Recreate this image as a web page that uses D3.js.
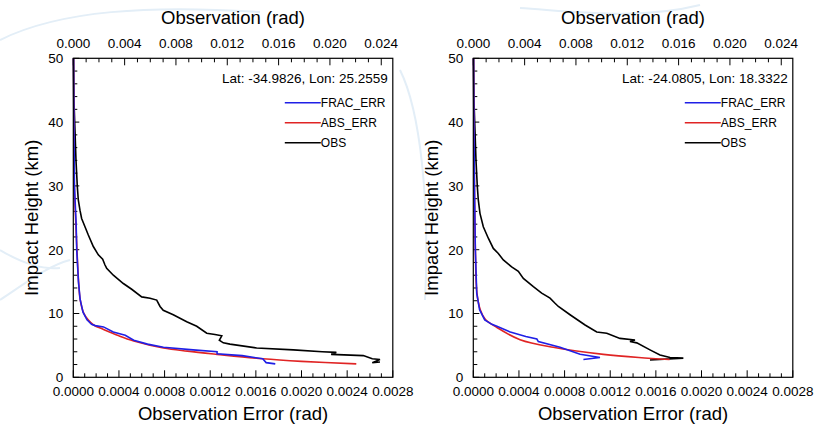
<!DOCTYPE html>
<html>
<head>
<meta charset="utf-8">
<script src="https://cdn.jsdelivr.net/npm/d3@7"></script>
<style>
  body { margin: 0; background: #fff; }
  text { font-family: "Liberation Sans", Arial, sans-serif; fill: #000; }
</style>
</head>
<body>
<div id="chart"></div>
<script>
var width = 814;
var height = 425;

// panel info
var panelTitles = ["Lat: -34.9826, Lon: 25.2559", "Lat: -24.0805, Lon: 18.3322"];
var legendNames = ["FRAC_ERR", "ABS_ERR", "OBS"];
var legendColors = ["#1f1fe6", "#e02424", "#000000"];

// tick values
var errTicks = [0, 0.0004, 0.0008, 0.0012, 0.0016, 0.0020, 0.0024, 0.0028];
var obsTicks = [0, 0.004, 0.008, 0.012, 0.016, 0.020, 0.024];
var hTicks = [0, 10, 20, 30, 40, 50];

// [value (rad), impact height (km)] -- left panel
var leftObs = [[0.00002,50],[0.00005,43.5],[0.00013,38.8],[0.00021,34],[0.00031,30],[0.00039,27.8],
  [0.00052,26.2],[0.00065,24.9],[0.00091,23.6],[0.00117,22.3],[0.00156,20.5],[0.00195,19.2],[0.00229,18.5],
  [0.00247,17.6],[0.0026,17.1],[0.00312,16.0],[0.0039,14.7],[0.00455,13.8],[0.00533,12.6],[0.00598,12.4],
  [0.0065,12.1],[0.00676,11.1],[0.00701,10.5],[0.00779,9.8],[0.00884,8.7],[0.00962,8.0],[0.0104,6.9],
  [0.01104,6.7],[0.01157,6.5],[0.01138,5.8],[0.01169,5.4],[0.01221,5.2],[0.01429,4.6],[0.01715,4.3],
  [0.0194,4.0],[0.0205,3.9],[0.0201,3.6],[0.0226,3.4],[0.0233,2.9],[0.0239,2.8],[0.0233,2.3],[0.0239,2.4]];
var leftAbs = [[0.000002,50],[0.000005,40],[0.000009,30],[0.00002,25],[0.000032,20],[0.000047,14.8],
  [0.00006,12.2],[0.00009,10.1],[0.00013,9.0],[0.000178,8.2],[0.000265,7.5],[0.0004,6.5],[0.00053,5.7],
  [0.00079,4.6],[0.001,4.1],[0.00126,3.6],[0.00166,2.9],[0.002,2.5],[0.00248,2.1]];
var leftFrac = [[0.000002,50],[0.000005,40],[0.00001,30],[0.000025,24],[0.00003,20],[0.000045,15],
  [0.00006,12.2],[0.000085,10.2],[0.00012,9.0],[0.00016,8.3],[0.000192,8.1],[0.000265,7.9],[0.00035,7.1],
  [0.000455,6.6],[0.00053,5.8],[0.00065,5.2],[0.00079,4.7],[0.00105,4.3],[0.00126,4.0],[0.00126,3.7],
  [0.00148,3.4],[0.00166,2.9],[0.00169,2.3],[0.00177,2.1]];

// right panel
var rightObs = [[0.00002,50],[0.00005,43.5],[0.00013,38.8],[0.00021,34],[0.00031,30],[0.00039,27.8],
  [0.00052,25.7],[0.00078,23.6],[0.00117,21.8],[0.00156,20.2],[0.00195,19.4],[0.00234,18.4],[0.00299,17.3],
  [0.00351,16.6],[0.0039,15.5],[0.00468,14.2],[0.00533,13.2],[0.00598,12.4],[0.00637,11.6],[0.00663,11.1],
  [0.00754,9.8],[0.00871,8.2],[0.00962,7.1],[0.0104,6.9],[0.01143,6.1],[0.0126,5.85],[0.01221,5.6],
  [0.01274,5.4],[0.01377,4.3],[0.01455,3.5],[0.01533,3.1],[0.01637,3.0],[0.01377,2.7]];
var rightAbs = [[0.000002,50],[0.000005,40],[0.00001,30],[0.000018,20],[0.000032,13.2],[0.000061,10.6],
  [0.000105,9.1],[0.000207,7.8],[0.00041,5.9],[0.0007,4.7],[0.00114,3.6],[0.00145,3.1],[0.00172,2.8]];
var rightFrac = [[0.000002,50],[0.000005,40],[0.00001,30],[0.000018,20],[0.00003,13.2],[0.000055,10.6],
  [0.0001,9.0],[0.000163,8.3],[0.000207,8.0],[0.000324,7.1],[0.00046,6.4],[0.000557,6.0],[0.00057,5.6],
  [0.00076,4.7],[0.000936,3.6],[0.00111,3.1],[0.000965,2.8]];

var svg = d3.select("#chart")
  .append("svg")
  .attr("width", width)
  .attr("height", height);

// faint background swooshes
var bg = svg.append("g").attr("fill", "none").attr("stroke", "#e3eef7").attr("stroke-width", 2);
bg.append("path").attr("d", "M0,40 C60,10 150,5 260,12");
bg.append("path").attr("d", "M0,300 C30,280 50,265 70,260");
bg.append("path").attr("d", "M0,250 C20,262 40,270 60,268");
bg.append("path").attr("d", "M400,70 C420,110 430,200 425,300");
bg.append("path").attr("d", "M520,8 C580,12 640,20 700,5");

function drawPanel(x0, title, obs, abs, frac) {
  var y0 = 58.3, w = 319.5, h = 319;
  var g = svg.append("g").attr("transform", "translate(" + x0 + "," + y0 + ")");

  var xErr = d3.scaleLinear().domain([0, 0.0028]).range([0, w]);
  var xObs = d3.scaleLinear().domain([0, 0.0249]).range([0, w]);
  var y = d3.scaleLinear().domain([0, 50]).range([h, 0]);

  // inward ticks (NCL style)
  var tk = g.append("g").attr("stroke", "#000").attr("stroke-width", 1);
  d3.range(0, 0.00281, 0.0001).forEach(function(v, i) {
    var len = i % 4 == 0 ? 7 : 4;
    tk.append("line").attr("x1", xErr(v)).attr("x2", xErr(v)).attr("y1", h).attr("y2", h - len);
  });
  d3.range(0, 0.0249, 0.001).forEach(function(v, i) {
    var len = i % 4 == 0 ? 7 : 4;
    tk.append("line").attr("x1", xObs(v)).attr("x2", xObs(v)).attr("y1", 0).attr("y2", len);
  });
  d3.range(0, 50.1, 2).forEach(function(v, i) {
    var len = i % 5 == 0 ? 6 : 4;
    tk.append("line").attr("x1", 0).attr("x2", len).attr("y1", y(v)).attr("y2", y(v));
  });

  // tick labels
  g.selectAll(".xl").data(errTicks).enter().append("text")
    .attr("x", function(d) { return xErr(d); })
    .attr("y", h + 19)
    .attr("text-anchor", "middle")
    .style("font-size", "13.5px")
    .text(function(d) { return d3.format(".4f")(d); });
  g.selectAll(".tl").data(obsTicks).enter().append("text")
    .attr("x", function(d) { return xObs(d); })
    .attr("y", -10)
    .attr("text-anchor", "middle")
    .style("font-size", "13.5px")
    .text(function(d) { return d3.format(".3f")(d); });
  g.selectAll(".yl").data(hTicks).enter().append("text")
    .attr("x", -10)
    .attr("y", function(d) { return y(d) + 5; })
    .attr("text-anchor", "end")
    .style("font-size", "13.5px")
    .text(function(d) { return d; });

  // axis titles
  g.append("text").attr("x", w / 2).attr("y", -34).attr("text-anchor", "middle")
    .style("font-size", "18.5px").text("Observation (rad)");
  g.append("text").attr("x", w / 2).attr("y", h + 43).attr("text-anchor", "middle")
    .style("font-size", "18.5px").text("Observation Error (rad)");
  g.append("text").attr("transform", "translate(-35," + (h / 2) + ") rotate(-90)")
    .attr("text-anchor", "middle").style("font-size", "18.5px").text("Impact Height (km)");

  // curves
  var lineErr = d3.line().x(function(d) { return xErr(d[0]); }).y(function(d) { return y(d[1]); });
  var smoothErr = d3.line().curve(d3.curveCatmullRom).x(function(d) { return xErr(d[0]); }).y(function(d) { return y(d[1]); });
  var lineObs = d3.line().x(function(d) { return xObs(d[0]); }).y(function(d) { return y(d[1]); });
  g.append("path").attr("d", lineObs(obs)).attr("fill", "none").attr("stroke", legendColors[2]).attr("stroke-width", 1.6);
  g.append("path").attr("d", smoothErr(abs)).attr("fill", "none").attr("stroke", legendColors[1]).attr("stroke-width", 1.6);
  g.append("path").attr("d", lineErr(frac)).attr("fill", "none").attr("stroke", legendColors[0]).attr("stroke-width", 1.6);

  // frame
  g.append("rect").attr("width", w).attr("height", h).attr("fill", "none").attr("stroke", "#000").attr("stroke-width", 1.2);

  // location label
  g.append("text").attr("x", w - 5).attr("y", 25).attr("text-anchor", "end")
    .style("font-size", "13.5px").text(title);

  // legend
  legendNames.forEach(function(name, i) {
    var ly = 44.4 + i * 20;
    g.append("line").attr("x1", w - 108).attr("x2", w - 72).attr("y1", ly).attr("y2", ly)
      .attr("stroke", legendColors[i]).attr("stroke-width", 1.4);
    g.append("text").attr("x", w - 72).attr("y", ly + 4.5).style("font-size", "12px").text(name);
  });
}

drawPanel(73.3, panelTitles[0], leftObs, leftAbs, leftFrac);
drawPanel(473.3, panelTitles[1], rightObs, rightAbs, rightFrac);
</script>
</body>
</html>
